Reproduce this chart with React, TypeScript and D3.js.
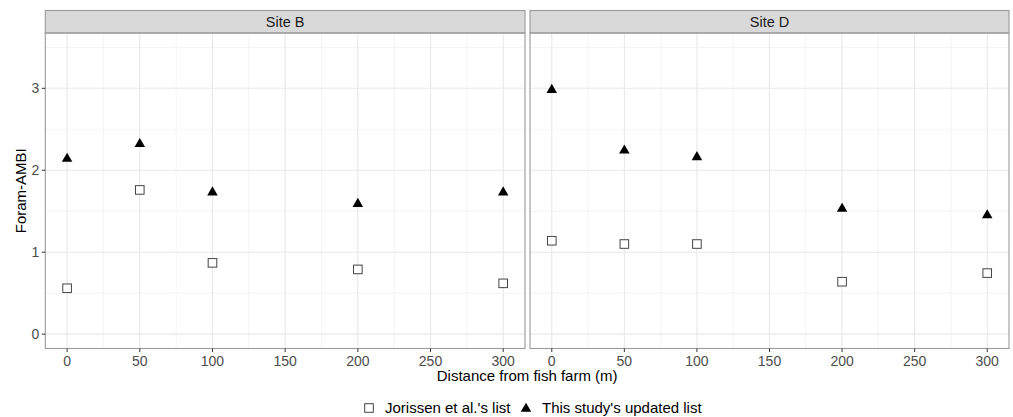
import React from "react";
import * as d3 from "d3";

const sites = ["Site B", "Site D"];
const distances = [0, 50, 100, 200, 300];
const jorissenB = [0.56, 1.76, 0.87, 0.79, 0.62];
const updatedB = [2.15, 2.33, 1.74, 1.6, 1.74];
const jorissenD = [1.14, 1.1, 1.1, 0.64, 0.745];
const updatedD = [2.99, 2.25, 2.17, 1.54, 1.46];
const xTicks = [0, 50, 100, 150, 200, 250, 300];
const xMinor = [25, 75, 125, 175, 225, 275];
const yTicks = [0, 1, 2, 3];
const yMinor = [0.5, 1.5, 2.5, 3.5];
const legendLabels = ["Jorissen et al.'s list", "This study's updated list"];

const W = 1013;
const H = 417;
const panelTop = 33;
const stripTop = 10.5;
const panelBottom = 348.5;
const panels = [
  { x0: 45.3, x1: 525 },
  { x0: 530, x1: 1009 },
];
const font = "Liberation Sans, Arial, sans-serif";

export default function App() {
  const y = d3.scaleLinear().domain([-0.175, 3.675]).range([panelBottom, panelTop]);
  const data = [
    { j: jorissenB, u: updatedB },
    { j: jorissenD, u: updatedD },
  ];
  const tri = d3.symbol().type(d3.symbolTriangle).size(48)();
  return (
    <svg width={W} height={H} style={{ position: "absolute", left: 0, top: 0 }} fontFamily={font}>
      <rect x={0} y={0} width={W} height={H} fill="#fff" />
      {panels.map((p, i) => {
        const x = d3.scaleLinear().domain([-15, 315]).range([p.x0, p.x1]);
        return (
          <g key={i}>
            {yMinor.map((v) => (
              <line key={"ym" + v} x1={p.x0} x2={p.x1} y1={y(v)} y2={y(v)} stroke="#EFEFEF" strokeWidth={0.7} />
            ))}
            {xMinor.map((v) => (
              <line key={"xm" + v} x1={x(v)} x2={x(v)} y1={panelTop} y2={panelBottom} stroke="#EFEFEF" strokeWidth={0.7} />
            ))}
            {yTicks.map((v) => (
              <line key={"yM" + v} x1={p.x0} x2={p.x1} y1={y(v)} y2={y(v)} stroke="#E8E8E8" strokeWidth={1.1} />
            ))}
            {xTicks.map((v) => (
              <line key={"xM" + v} x1={x(v)} x2={x(v)} y1={panelTop} y2={panelBottom} stroke="#E8E8E8" strokeWidth={1.1} />
            ))}
            <rect x={p.x0} y={stripTop} width={p.x1 - p.x0} height={panelTop - stripTop} fill="#D9D9D9" stroke="#9A9A9A" strokeWidth={1.1} />
            <text x={(p.x0 + p.x1) / 2} y={(stripTop + panelTop) / 2} dy="0.36em" textAnchor="middle" fontSize={14.5} fill="#1A1A1A">
              {sites[i]}
            </text>
            <rect x={p.x0} y={panelTop} width={p.x1 - p.x0} height={panelBottom - panelTop} fill="none" stroke="#9A9A9A" strokeWidth={1.1} />
            {xTicks.map((v) => (
              <g key={"xt" + v}>
                <line x1={x(v)} x2={x(v)} y1={panelBottom} y2={panelBottom + 3.5} stroke="#333" strokeWidth={1} />
                <text x={x(v)} y={panelBottom + 12} dy="0.36em" textAnchor="middle" fontSize={14} fill="#4D4D4D">
                  {v}
                </text>
              </g>
            ))}
            {data[i].j.map((v, k) => (
              <rect key={"j" + k} x={x(distances[k]) - 4.3} y={y(v) - 4.3} width={8.6} height={8.6} fill="#fff" stroke="#444" strokeWidth={1} />
            ))}
            {data[i].u.map((v, k) => (
              <path key={"u" + k} d={tri!} transform={`translate(${x(distances[k])},${y(v) + 0.8})`} fill="#000" />
            ))}
          </g>
        );
      })}
      {yTicks.map((v) => (
        <g key={"yt" + v}>
          <line x1={panels[0].x0 - 3.5} x2={panels[0].x0} y1={y(v)} y2={y(v)} stroke="#333" strokeWidth={1} />
          <text x={panels[0].x0 - 6} y={y(v)} dy="0.36em" textAnchor="end" fontSize={14} fill="#4D4D4D">
            {v}
          </text>
        </g>
      ))}
      <text x={(panels[0].x0 + panels[1].x1) / 2} y={376} dy="0.36em" textAnchor="middle" fontSize={15} fill="#000">
        Distance from fish farm (m)
      </text>
      <text transform={`translate(21,${(panelTop + panelBottom) / 2}) rotate(-90)`} dy="0.36em" textAnchor="middle" fontSize={15} fill="#000">
        Foram-AMBI
      </text>
      <rect x={369 - 4.3} y={408 - 4.3} width={8.6} height={8.6} fill="#fff" stroke="#444" strokeWidth={1} />
      <text x={385} y={408} dy="0.36em" fontSize={15} fill="#000">{legendLabels[0]}</text>
      <path d={tri!} transform={`translate(526,${408 + 0.8})`} fill="#000" />
      <text x={542} y={408} dy="0.36em" fontSize={15} fill="#000">{legendLabels[1]}</text>
    </svg>
  );
}
